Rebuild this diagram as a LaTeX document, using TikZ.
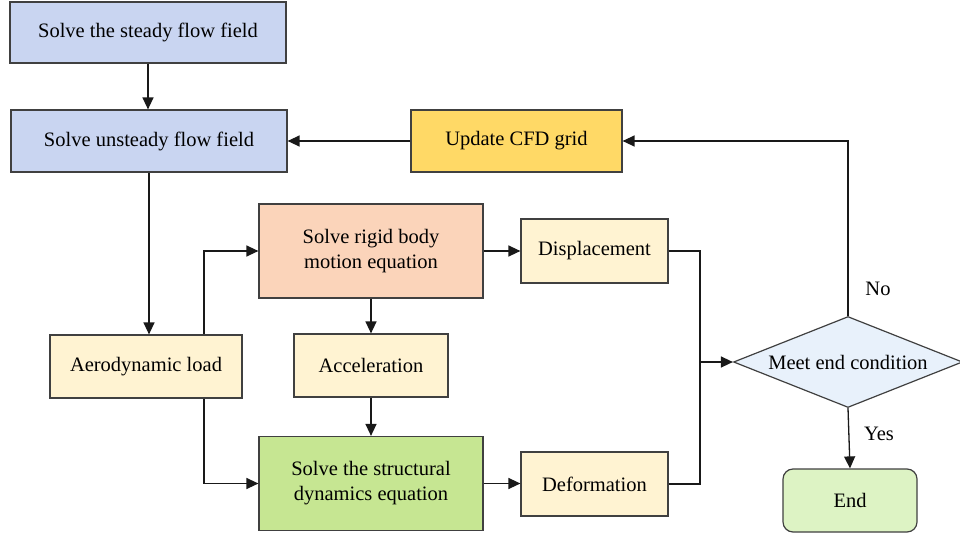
\documentclass[tikz,border=0pt]{standalone}
\usepackage{fontspec}
\setmainfont{Liberation Serif}
\usetikzlibrary{arrows.meta,positioning,calc,shapes.geometric}

\definecolor{boxline}{HTML}{404040}
\definecolor{flowblue}{HTML}{C9D5F1}
\definecolor{gridyellow}{HTML}{FFD966}
\definecolor{rigidsalmon}{HTML}{FBD4BA}
\definecolor{datacream}{HTML}{FFF3D2}
\definecolor{structgreen}{HTML}{C6E692}
\definecolor{checkblue}{HTML}{E8F1FB}
\definecolor{endgreen}{HTML}{DDF3C4}

\begin{document}
\begin{tikzpicture}[x=1pt,y=-1pt,>={Triangle[length=12pt,width=11pt]},
  every node/.style={font=\fontsize{20.5}{25}\selectfont},
  box/.style={draw=boxline,line width=1.2pt,align=center,inner sep=0pt},
  link/.style={draw=black!90,line width=1.3pt,->},
  wire/.style={draw=black!90,line width=1.3pt}]
  \useasboundingbox (0,0) rectangle (960,538);

  % flow solver
  \node[box,fill=flowblue,minimum width=276pt,minimum height=61pt] (steady) at (148,32.5)
    {Solve the steady flow field};
  \node[box,fill=flowblue,minimum width=276pt,minimum height=62pt] (unsteady) at (149,141)
    {Solve unsteady flow field};
  \node[box,fill=gridyellow,minimum width=211pt,minimum height=62pt] (update) at (516.5,141)
    {Update CFD grid};

  % structure solver
  \node[box,fill=rigidsalmon,minimum width=224pt,minimum height=94pt] (rigid) at (371,251)
    {Solve rigid body\\motion equation};
  \node[box,fill=datacream,minimum width=147pt,minimum height=64pt] (disp) at (594.5,251)
    {Displacement};
  \node[box,fill=datacream,minimum width=192pt,minimum height=63pt] (aero) at (146,366.5)
    {Aerodynamic load};
  \node[box,fill=datacream,minimum width=154pt,minimum height=63pt] (accel) at (371,365.5)
    {Acceleration};
  \node[box,fill=structgreen,minimum width=224pt,minimum height=94pt] (struct) at (371,483.5)
    {Solve the structural\\dynamics equation};
  \node[box,fill=datacream,minimum width=147pt,minimum height=64pt] (deform) at (594.5,484)
    {Deformation};

  % decision
  \node[box,diamond,fill=checkblue,aspect=2.5,minimum width=229pt,minimum height=91pt] (check) at (848,362)
    {Meet end condition};
  \node[box,fill=endgreen,rounded corners=10pt,minimum width=134pt,minimum height=63pt] (finish) at (850,500.5)
    {End};

  \draw[link] (steady.south) -- (steady.south |- unsteady.north);
  \draw[link] (update) -- (unsteady);
  \draw[link] (unsteady.south) -- (unsteady.south |- aero.north);
  \draw[link] ($(aero.north)+(58,0)$) |- (rigid.west);
  \draw[link] ($(aero.south)+(58,0)$) |- (struct.west);
  \draw[link] (rigid) -- (accel);
  \draw[link] (accel) -- (struct);
  \draw[link] (rigid) -- (disp);
  \draw[link] (struct.east) -- (struct.east -| deform.west);

  \coordinate (join) at (700,362);
  \draw[wire] (disp.east) -| (join);
  \draw[wire] (deform.east) -| (join);
  \draw[link] (join) -- (check.west);

  \draw[link] (check.north) |- (update.east);
  \draw[link] (check.south) -- (finish.north);
  \node (no) at (878,289) {No};
  \node (yes) at (879,434) {Yes};
\end{tikzpicture}
\end{document}
